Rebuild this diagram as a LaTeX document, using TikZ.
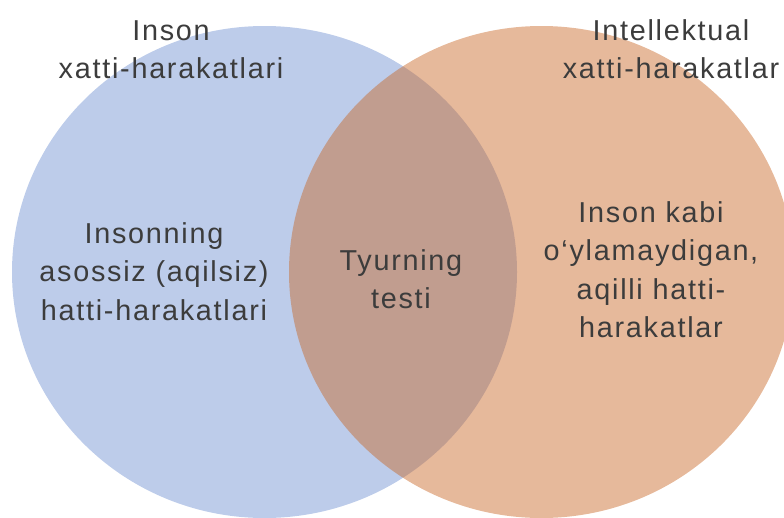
\documentclass[tikz,border=0pt]{standalone}
\usepackage{fontspec}
\setmainfont[LetterSpace=6]{Liberation Sans}
\definecolor{blueV}{RGB}{189,204,234}
\definecolor{orangeV}{RGB}{200,100,33}
\definecolor{txt}{RGB}{60,60,60}
\begin{document}
\begin{tikzpicture}[x=1pt,y=-1pt,
  lbl/.style={align=center, inner sep=0pt, anchor=base, text=txt,
    font=\fontsize{28.8}{38.5}\selectfont}]
\useasboundingbox (0,0) rectangle (784,517);
\clip (0,0) rectangle (784,517);
\fill[blueV] (264.5,272) ellipse [x radius=252.5, y radius=246];
\fill[orangeV, fill opacity=0.45] (541.5,272) ellipse [x radius=252.5, y radius=246];
\node[lbl] (topl) at (171,78.5) {Inson\\xatti-harakatlari};
\node[lbl] (topr) at (671,78.5) {Intellektual\\xatti-harakatlar};
\node[lbl] (left) at (154,320) {Insonning\\asossiz (aqilsiz)\\hatti-harakatlari};
\node[lbl] (mid) at (401,308.5) {Tyurning\\testi};
\node[lbl] (right) at (651,337.5) {Inson kabi\\o‘ylamaydigan,\\aqilli hatti-\\harakatlar};
\end{tikzpicture}
\end{document}
